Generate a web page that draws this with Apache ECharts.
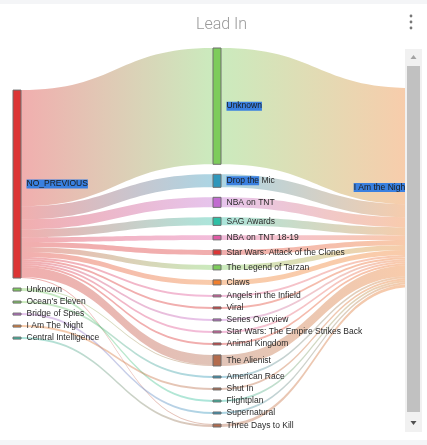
<!DOCTYPE html>
<html><head><meta charset="utf-8">
<script src="https://cdn.jsdelivr.net/npm/echarts@6/dist/echarts.min.js"></script>
<style>html,body{margin:0;padding:0;background:#fff}#c{width:427px;height:445px}</style>
</head><body><div id="c"></div>
<script>
// ---- data ----
const leadInsOfLeadIns = ['NO_PREVIOUS', 'Unknown ', "Ocean's Eleven", 'Bridge of Spies', 'I Am The Night', 'Central Intelligence'];
const leadIns = ['Unknown', 'Drop the Mic', 'NBA on TNT', 'SAG Awards', 'NBA on TNT 18-19',
  'Star Wars: Attack of the Clones', 'The Legend of Tarzan', 'Claws', 'Angels in the Infield', 'Viral',
  'Series Overview', 'Star Wars: The Empire Strikes Back', 'Animal Kingdom', 'The Alienist',
  'American Race', 'Shut In', 'Flightplan', 'Supernatural', 'Three Days to Kill'];
const fromNoPrevious = [116, 13, 10, 8, 4.5, 5, 5, 5, 2, 2, 2, 2, 2, 10, 0, 0, 0, 0, 1];
const otherSources = ['Unknown ', 'Unknown ', "Ocean's Eleven", 'Bridge of Spies', 'I Am The Night', 'Central Intelligence'];
const otherTargets = ['The Alienist', 'Flightplan', 'American Race', 'Supernatural', 'Shut In', 'Three Days to Kill'];
const otherValues = [1, 2, 2, 2, 2, 2];
const program = 'I Am the Night';

// ---- styles / layout constants ----
const C = { red: '#dc3535', green: '#7dcc5b', blue: '#2f97bb', purple: '#c16bd0', teal: '#2ebfa5',
  pink: '#e05aa5', orange: '#f07e2c', brown: '#b36b4c' };
const nodeColor = {
  'NO_PREVIOUS': C.red, 'Unknown ': C.green, "Ocean's Eleven": C.green, 'Bridge of Spies': C.purple,
  'I Am The Night': C.orange, 'Central Intelligence': C.teal,
  'Unknown': C.green, 'Drop the Mic': C.blue, 'NBA on TNT': C.purple, 'SAG Awards': C.teal,
  'NBA on TNT 18-19': C.pink, 'Star Wars: Attack of the Clones': C.red, 'The Legend of Tarzan': C.green,
  'Claws': C.orange, 'Angels in the Infield': C.pink, 'Viral': C.red, 'Series Overview': C.purple,
  'Star Wars: The Empire Strikes Back': C.pink, 'Animal Kingdom': C.red, 'The Alienist': C.brown,
  'American Race': C.blue, 'Shut In': C.brown, 'Flightplan': C.teal, 'Supernatural': C.blue,
  'Three Days to Kill': C.brown, 'I Am the Night': C.orange
};
const selected = { 'NO_PREVIOUS': 'NO_PREVIOUS', 'Unknown': 'Unknown', 'Drop the Mic': 'Drop the', 'I Am the Night': 'I Am the Night' };
const LEFT_PAD = 32, RIGHT_PAD = 30;

// ---- build ----
const nodes = [];
const spacer = (name, depth, v) => ({ name, depth, value: v, itemStyle: { color: 'rgba(0,0,0,0)', borderWidth: 0 }, label: { show: false } });
nodes.push(spacer('__padL', 0, LEFT_PAD));
leadInsOfLeadIns.forEach(n => nodes.push({ name: n, depth: 0, itemStyle: { color: nodeColor[n] } }));
leadIns.forEach(n => nodes.push({ name: n, depth: 1, itemStyle: { color: nodeColor[n] } }));
nodes.push(spacer('__padR', 2, RIGHT_PAD));
nodes.push({ name: program, depth: 2, itemStyle: { color: nodeColor[program] }, label: { position: 'left', distance: 5 } });

const links = [];
const totals = {};
leadIns.forEach((n, i) => {
  if (fromNoPrevious[i] > 0) links.push({ source: 'NO_PREVIOUS', target: n, value: fromNoPrevious[i] });
  totals[n] = fromNoPrevious[i];
});
otherSources.forEach((s, i) => {
  links.push({ source: s, target: otherTargets[i], value: otherValues[i] });
  totals[otherTargets[i]] += otherValues[i];
});
leadIns.forEach(n => links.push({ source: n, target: program, value: totals[n] }));

function fmt(p) {
  const sel = selected[p.name];
  const name = p.name.trim();
  if (!sel) return name;
  return '{sel|' + sel + '}' + name.slice(sel.length);
}

const FONT = 'Liberation Sans, Arial';
const chart = echarts.init(document.getElementById('c'), null, { renderer: 'canvas' });
chart.setOption({
  animation: false,
  title: { text: 'Lead In', left: 191, top: 12, textStyle: { fontFamily: 'Roboto', fontWeight: 300, fontSize: 16, color: '#999' } },
  series: [{
    type: 'sankey',
    left: 13, right: 6, top: 48, bottom: 18,
    nodeWidth: 8, nodeGap: 10,
    layoutIterations: 0,
    draggable: false,
    emphasis: { disabled: true },
    data: nodes,
    links: links,
    itemStyle: { borderColor: '#6f6f6f', borderWidth: 1 },
    lineStyle: { color: 'gradient', opacity: 0.4, curveness: 0.5 },
    label: {
      position: 'right', distance: 5, fontFamily: FONT, fontSize: 8.5, color: '#2a2a2a',
      formatter: fmt,
      rich: { sel: { backgroundColor: '#3a80e0', color: '#1a1a1a', fontFamily: FONT, fontSize: 8.5 } }
    }
  }],
  graphic: [
    { type: 'rect', z: 100, shape: { x: 0, y: 0, width: 427, height: 4 }, style: { fill: '#f4f5f7' } },
    { type: 'rect', z: 100, shape: { x: 0, y: 440, width: 427, height: 5 }, style: { fill: '#f4f5f7' } },
    { type: 'circle', z: 100, shape: { cx: 411, cy: 16, r: 1.4 }, style: { fill: '#777' } },
    { type: 'circle', z: 100, shape: { cx: 411, cy: 22, r: 1.4 }, style: { fill: '#777' } },
    { type: 'circle', z: 100, shape: { cx: 411, cy: 28, r: 1.4 }, style: { fill: '#777' } },
    { type: 'rect', z: 100, shape: { x: 405, y: 49, width: 17, height: 383 }, style: { fill: '#f1f1f1' } },
    { type: 'rect', z: 101, shape: { x: 407, y: 66, width: 13, height: 346 }, style: { fill: '#c1c1c1' } },
    { type: 'polygon', z: 101, shape: { points: [[413.5, 55], [410.5, 59], [416.5, 59]] }, style: { fill: '#a3a3a3' } },
    { type: 'polygon', z: 101, shape: { points: [[410.5, 421], [416.5, 421], [413.5, 425]] }, style: { fill: '#505050' } }
  ]
});
</script></body></html>
